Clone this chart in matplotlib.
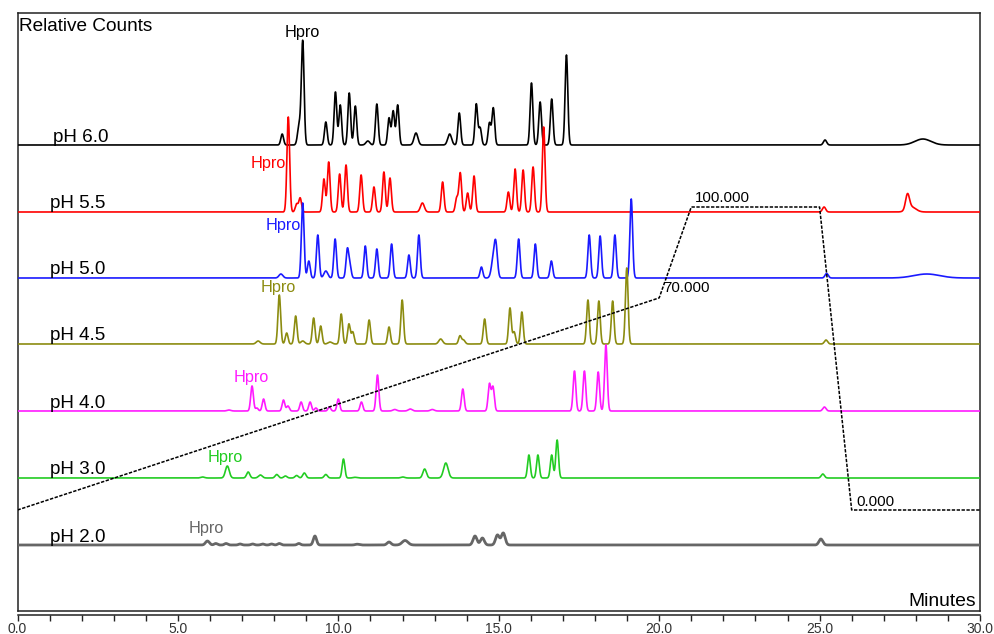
import numpy as np
import matplotlib
matplotlib.use("Agg")
import matplotlib.pyplot as plt
from matplotlib.ticker import MultipleLocator, FormatStrFormatter

plt.rcParams['font.family'] = ['Liberation Sans', 'DejaVu Sans']

# retention times (min), peak heights (relative counts), peak widths (sigma, min; 0 -> default)
rt_60 = [8.25, 8.78, 8.89, 9.61, 9.91, 10.06, 10.34, 10.53, 10.92, 11.20, 11.58, 11.71, 11.85, 12.42,
         13.47, 13.77, 14.30, 14.42, 14.71, 14.83, 16.02, 16.29, 16.65, 17.11, 25.17, 28.22]
h_60 = [11, 20, 103, 23, 53, 40, 52, 39, 4, 41, 27, 34, 40, 12,
        11, 32, 41, 17, 22, 37, 62, 43, 46, 90, 5, 6]
w_60 = [0, 0.05, 0, 0, 0, 0, 0, 0, 0.06, 0, 0, 0, 0, 0.06,
        0.06, 0, 0, 0, 0, 0, 0, 0, 0, 0, 0.05, 0.25]

rt_55 = [8.44, 8.70, 8.81, 9.55, 9.70, 10.04, 10.24, 10.71, 11.11, 11.42, 11.61, 12.62,
         13.25, 13.69, 13.80, 14.03, 14.23, 15.30, 15.51, 15.76, 16.07, 16.40, 25.14, 27.74, 27.86]
h_55 = [95, 8, 14, 33, 50, 38, 47, 37, 25, 40, 34, 9,
        30, 14, 39, 19, 36, 20, 43, 42, 45, 85, 5, 15, 5]
w_55 = [0, 0, 0, 0, 0, 0, 0, 0, 0, 0, 0, 0.06,
        0, 0, 0, 0, 0, 0, 0, 0, 0, 0, 0.05, 0.06, 0.14]

rt_50 = [8.21, 8.89, 9.08, 9.36, 9.61, 9.90, 10.28, 10.36, 10.84, 11.20, 11.66, 12.20, 12.51,
         14.46, 14.83, 14.91, 15.62, 16.14, 16.64, 17.82, 18.16, 18.62, 19.13, 25.22, 28.34]
h_50 = [4, 75, 17, 43, 7, 39, 28, 12, 32, 29, 34, 23, 43,
        11, 18, 30, 39, 34, 17, 43, 42, 43, 79, 4.5, 4]
w_50 = [0.06, 0, 0, 0, 0.06, 0, 0, 0, 0, 0, 0, 0, 0,
        0, 0.06, 0.05, 0, 0, 0, 0, 0, 0, 0, 0.05, 0.4]

rt_45 = [7.50, 8.16, 8.39, 8.67, 8.89, 9.23, 9.45, 9.74, 10.09, 10.33, 10.45, 10.96, 11.58, 11.99,
         13.19, 13.79, 13.90, 14.56, 15.35, 15.48, 15.72, 17.78, 18.12, 18.55, 18.99, 25.20]
h_45 = [3, 49, 11, 28, 3, 26, 18, 2, 30, 20, 12, 24, 17, 44,
        5, 8, 4, 25, 36, 12, 32, 44, 43, 43, 76, 4]
w_45 = [0.06, 0, 0, 0, 0.06, 0, 0, 0.06, 0, 0, 0, 0, 0, 0,
        0.06, 0, 0.05, 0, 0, 0, 0, 0, 0, 0, 0, 0.05]

rt_40 = [6.59, 7.31, 7.46, 7.67, 8.29, 8.43, 8.84, 9.12, 9.30, 9.72, 10.00, 10.72, 11.22,
         11.76, 12.24, 12.93, 13.88, 14.71, 14.82, 17.36, 17.67, 18.10, 18.34, 25.15]
h_40 = [1, 25, 3, 12, 11, 5, 9, 9, 3, 4, 12, 9, 36,
        1.5, 2, 1.5, 22, 27, 24, 40, 40, 39, 66, 4]
w_40 = [0.06, 0, 0, 0, 0, 0, 0, 0, 0, 0, 0, 0, 0,
        0.06, 0.06, 0.06, 0, 0, 0, 0, 0, 0, 0, 0.05]

rt_30 = [5.77, 6.54, 7.19, 7.57, 8.08, 8.35, 8.70, 8.94, 9.61, 10.16, 10.52, 12.01,
         12.69, 13.35, 15.94, 16.22, 16.65, 16.82, 25.10]
h_30 = [1, 12, 6, 3, 3.5, 2, 2.5, 5, 3.5, 19, 0.7, 1,
        9, 15, 23, 23, 23, 38, 4]
w_30 = [0.06, 0.06, 0.05, 0.06, 0.05, 0.05, 0.05, 0.05, 0.05, 0, 0.06, 0.06,
        0.055, 0.07, 0, 0, 0, 0, 0.05]

rt_20 = [5.92, 6.18, 6.50, 6.94, 7.33, 7.64, 7.92, 8.16, 8.77, 9.27, 10.59, 11.58, 12.08,
         14.26, 14.49, 14.96, 15.14, 25.04]
h_20 = [4, 1.5, 1.5, 1, 1, 1, 1, 1.5, 1.5, 9, 0.8, 3, 4.5,
        9, 7, 10, 12, 6]
w_20 = [0.06, 0.05, 0.05, 0.05, 0.05, 0.05, 0.05, 0.05, 0.05, 0.05, 0.06, 0.06, 0.09,
        0.06, 0.06, 0.06, 0.06, 0.06]

# trace names, vertical offsets, colours, Hpro label (time, height above axis bottom)
names = ['pH 6.0', 'pH 5.5', 'pH 5.0', 'pH 4.5', 'pH 4.0', 'pH 3.0', 'pH 2.0']
offsets = [466, 399, 333, 267, 200, 133, 66]
colors = ['#000000', '#ff0000', '#1a1aff', '#8c8c10', '#ff1aff', '#22cc22', '#666666']
hpro_t = [8.87, 7.82, 8.29, 8.14, 7.30, 6.48, 5.88]
hpro_y = [573.7, 443.3, 381.0, 319.3, 229.3, 148.7, 77.7]
name_t = [1.10, 1.02, 1.02, 1.02, 1.02, 1.02, 1.02]

# mobile phase gradient (%B)
grad_t = [0, 20, 21, 25, 26, 30]
grad_b = [0, 70, 100, 100, 0, 0]

peaks = [(rt_60, h_60, w_60), (rt_55, h_55, w_55), (rt_50, h_50, w_50), (rt_45, h_45, w_45),
         (rt_40, h_40, w_40), (rt_30, h_30, w_30), (rt_20, h_20, w_20)]

t = np.linspace(0, 30, 9001)


def trace(rts, hs, ws, sigma=0.042):
    y = np.zeros_like(t)
    for r, h, w in zip(rts, hs, ws):
        s = w if w > 0 else sigma
        y += h * np.exp(-0.5 * ((t - r) / s) ** 2)
    return y


fig = plt.figure(figsize=(9.94, 6.34), dpi=100)
L, R, B, T = 17.5 / 994, 980 / 994, 1 - 611 / 634, 1 - 13 / 634
ax = fig.add_axes([L, B, R - L, T - B])
ax.set_xlim(0, 30)
ax.set_ylim(0, 598)
ax.set_xticks([])
ax.set_yticks([])
for s in ax.spines.values():
    s.set_linewidth(1.1)
    s.set_color('#222222')

for i, (rts, hs, ws) in enumerate(peaks):
    lw = 2.0 if names[i] == 'pH 2.0' else 1.2
    ax.plot(t, offsets[i] + trace(rts, hs, ws), color=colors[i], lw=lw, zorder=3)
    ax.text(name_t[i], offsets[i] + 3.5, names[i], fontsize=13.6, color='black',
            ha='left', va='baseline', zorder=4)
    ax.text(hpro_t[i], hpro_y[i], 'Hpro', fontsize=11.7, color=colors[i],
            ha='center', va='baseline', zorder=4)

# gradient drawn on the same axes: 0 % -> 101, 100 % -> 404
gy = 101 + 3.03 * np.array(grad_b)
ax.plot(grad_t, gy, color='black', lw=1.1, ls=(0, (2.2, 1.0)), zorder=5)
ax.text(21.12, 101 + 3.03 * 100 + 4.5, '%.3f' % 100, fontsize=10.8, ha='left', va='baseline')
ax.text(20.13, 101 + 3.03 * 70 + 5.5, '%.3f' % 70, fontsize=10.8, ha='left', va='baseline')
ax.text(26.15, 101 + 4.3, '%.3f' % 0, fontsize=10.8, ha='left', va='baseline')

ax.text(0.06, 580.3, 'Relative Counts', fontsize=13.7, ha='left', va='baseline')
ax.text(29.88, 5, 'Minutes', fontsize=13.9, ha='right', va='baseline')

# separate time axis just under the frame
axb = fig.add_axes([L, B - 3.7 / 634, R - L, 0.0001])
axb.set_xlim(0, 30)
axb.patch.set_visible(False)
for side in ['top', 'left', 'right']:
    axb.spines[side].set_visible(False)
axb.spines['bottom'].set_linewidth(1.1)
axb.spines['bottom'].set_color('#222222')
axb.set_yticks([])
axb.xaxis.set_major_locator(MultipleLocator(5))
axb.xaxis.set_minor_locator(MultipleLocator(1))
axb.xaxis.set_major_formatter(FormatStrFormatter('%.1f'))
axb.tick_params(axis='x', which='both', direction='out', length=4.5, width=1, color='#222222',
                labelsize=10, labelcolor='#333333', pad=0.5)

fig.savefig('out.png', dpi=100)
